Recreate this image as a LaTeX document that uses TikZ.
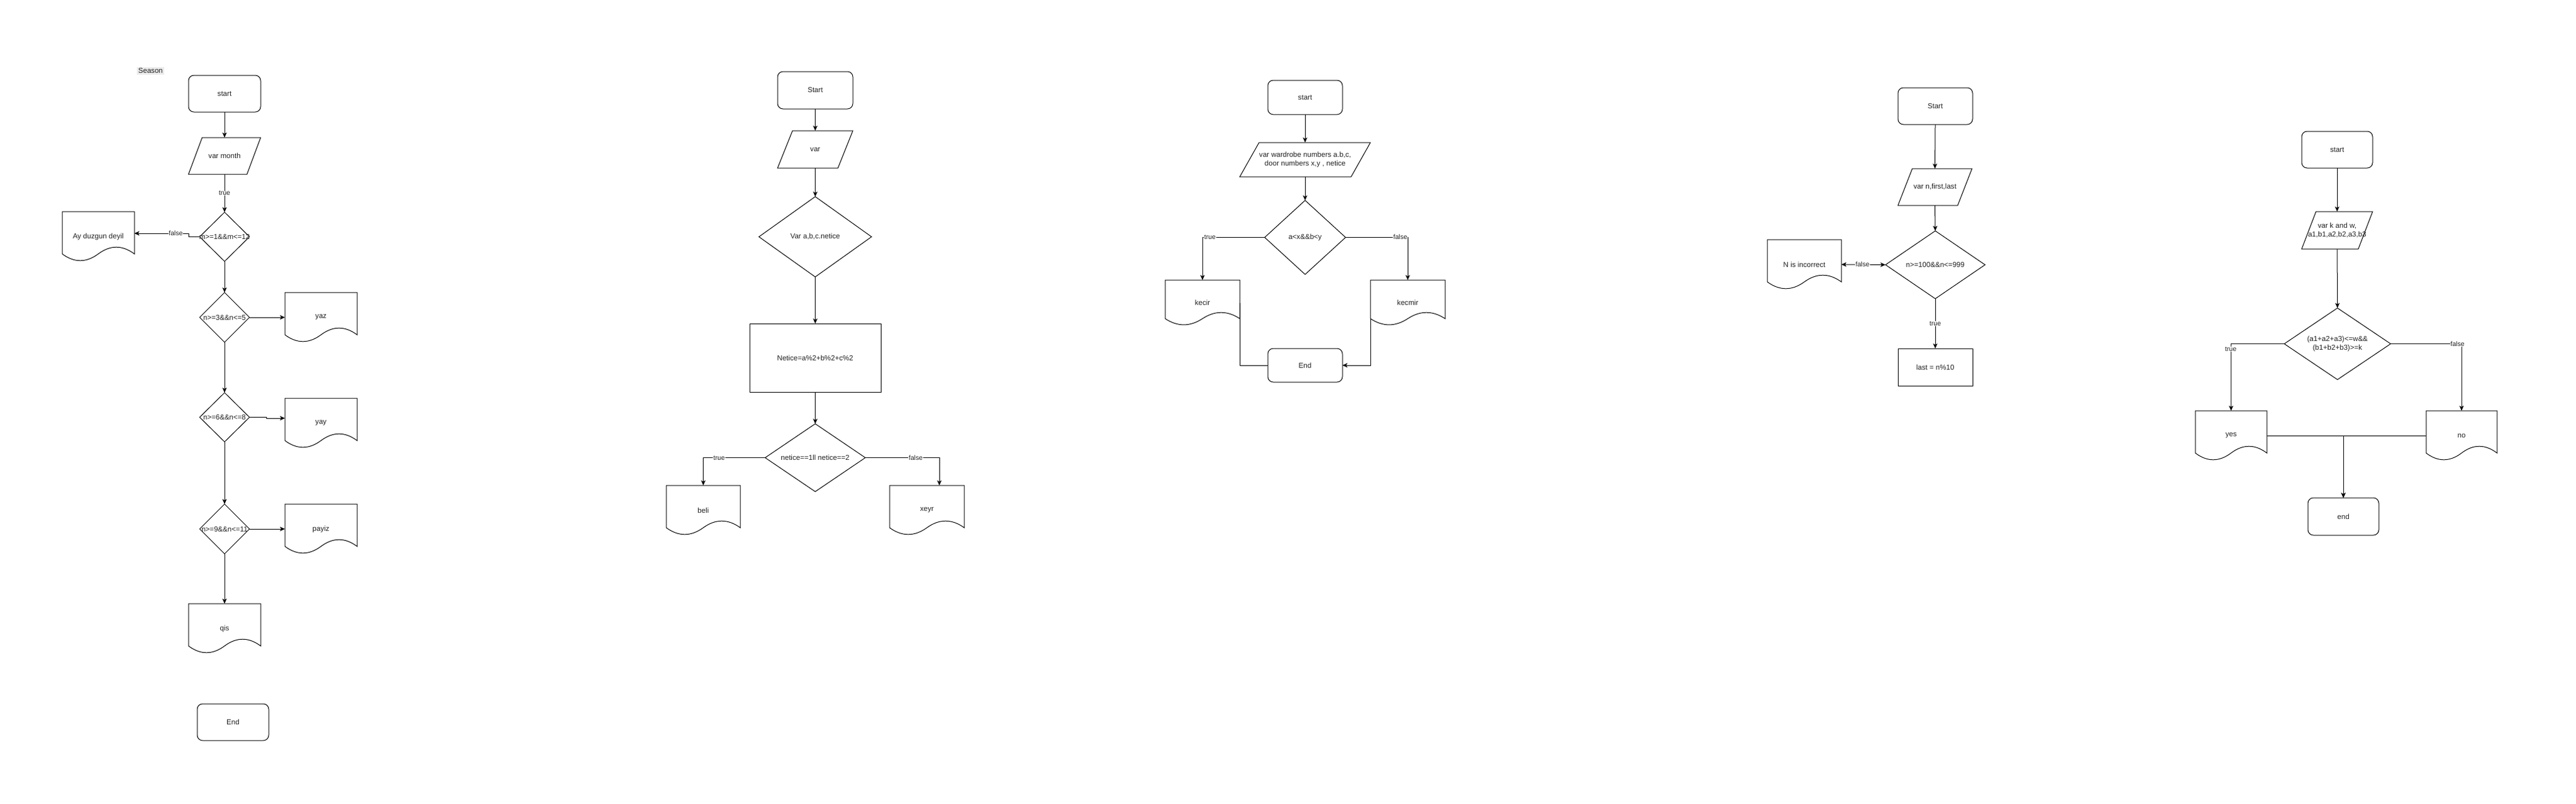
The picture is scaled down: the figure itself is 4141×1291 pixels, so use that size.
\documentclass[tikz,border=0pt]{standalone}
\usepackage{fontspec}
\setmainfont{Liberation Sans}
\usetikzlibrary{arrows.meta,shapes.geometric,calc}
\newcommand{\mynodefont}{\fontsize{11.6}{14}\selectfont}
\newcommand{\mylabelfont}{\fontsize{10.6}{12.5}\selectfont}
\newcommand{\zw}[1]{\makebox[0pt]{#1}}
\definecolor{seasonbg}{HTML}{EBEBEB}
\definecolor{txt}{HTML}{222222}
\tikzset{
  outl/.style={draw=black, line width=1pt, line join=miter},
  base/.style={font=\mynodefont, text=txt, inner sep=0pt, outer sep=0pt},
  term/.style={base, draw, line width=1pt, rounded corners=8.7pt},
  proc/.style={base, draw, line width=1pt},
  dia/.style={base, diamond, draw, line width=1pt},
  para/.style={base, align=center},
  docu/.style={base, align=center},
  arr/.style={draw, line width=1pt, -{Stealth[length=8pt,width=7pt,inset=2pt]}},
  lineonly/.style={draw, line width=1pt},
  arrboth/.style={draw, line width=1pt, {Stealth[length=8pt,width=7pt,inset=2pt]}-{Stealth[length=8pt,width=7pt,inset=2pt]}},
  lbl/.style={font=\mylabelfont, text=txt, fill=white, inner sep=0.5pt},
}
\newcommand{\docoutline}[1]{%
  \draw[outl] let \p1=(#1.north west), \p2=(#1.south east), \n1={\x2-\x1}, \n2={\y1-\y2} in
  (\p1) -- (\x2,\y1) -- (\x2,{\y1-0.85*\n2})
  .. controls ({\x1+0.8333*\n1},{\y1-0.67*\n2}) and ({\x1+0.6667*\n1},{\y1-0.67*\n2}) .. ({\x1+0.5*\n1},{\y1-0.85*\n2})
  .. controls ({\x1+0.3333*\n1},{\y1-1.03*\n2}) and ({\x1+0.1667*\n1},{\y1-1.03*\n2}) .. (\x1,{\y1-0.85*\n2}) -- cycle;}
\newcommand{\paraoutline}[2]{%
  \draw[outl] let \p1=(#1.north west), \p2=(#1.south east) in
  ({\x1+#2},\y1) -- (\x2,\y1) -- ({\x2-#2},\y2) -- (\x1,\y2) -- cycle;}
\begin{document}
\begin{tikzpicture}[x=1pt,y=-1pt]
\fill[white] (0,0) rectangle (4141,1291);
\useasboundingbox (0,0) rectangle (4141,1291);

% ---------- Flowchart 1: Season ----------
\node[base, fill=seasonbg, inner xsep=2pt, inner ysep=2pt] (season) at (242,114) {Season};
\node[term, minimum width=116pt, minimum height=59pt] (s1) at (361,150.5) {start};
\node[para, minimum width=116pt, minimum height=59pt] (i1) at (361,250.5) {var month};
\node[dia, minimum width=80pt, minimum height=79pt] (d1) at (361,380.5) {\zw{m>=1\&\&m<=12}};
\node[docu, minimum width=116pt, minimum height=80pt] (o1) at (158,380) {Ay duzgun deyil};
\node[dia, minimum width=80pt, minimum height=80pt] (d2) at (361,510) {\zw{n>=3\&\&n<=5}};
\node[docu, minimum width=116pt, minimum height=80pt] (o2) at (516,510) {yaz};
\node[dia, minimum width=80pt, minimum height=79pt] (d3) at (361,670.5) {\zw{n>=6\&\&n<=8}};
\node[docu, minimum width=116pt, minimum height=80pt] (o3) at (516,680) {yay};
\node[dia, minimum width=80pt, minimum height=80pt] (d4) at (361,850) {\zw{n>=9\&\&n<=11}};
\node[docu, minimum width=116pt, minimum height=80pt] (o4) at (516,850) {payiz};
\node[docu, minimum width=116pt, minimum height=80pt] (o5) at (361,1010) {qis};
\node[term, minimum width=115pt, minimum height=59pt] (e1) at (374.5,1160.5) {End};
\paraoutline{i1}{22}
\docoutline{o1}\docoutline{o2}\docoutline{o3}\docoutline{o4}\docoutline{o5}
\draw[arr] (s1.south) -- (i1.north);
\draw[arr] (i1.south) -- node[lbl] (t1) {true} (d1.north);
\draw[arr] (d1.west) -- ++(-18,0) |- ([yshift=5pt]o1.east);
\node[lbl] (f1) at (282.5,375) {false};
\draw[arr] (d1.south) -- (d2.north);
\draw[arr] (d2.east) -- (o2.west);
\draw[arr] (d2.south) -- (d3.north);
\draw[arr] (d3.east) -- ++(27,0) |- ([yshift=8pt]o3.west);
\draw[arr] (d3.south) -- (d4.north);
\draw[arr] (d4.east) -- (o4.west);
\draw[arr] (d4.south) -- (o5.north);

% ---------- Flowchart 2 ----------
\node[term, minimum width=121pt, minimum height=60pt] (s2) at (1310.5,145) {Start};
\node[para, minimum width=121pt, minimum height=60pt] (i2) at (1310.5,240) {var};
\node[dia, minimum width=181pt, minimum height=129pt] (d5) at (1310.5,380.5) {\zw{Var a,b,c.netice}};
\node[proc, minimum width=211pt, minimum height=110pt] (p2) at (1310.5,575) {Netice=a\%2+b\%2+c\%2};
\node[dia, minimum width=161pt, minimum height=109pt] (d6) at (1310.5,735.5) {\zw{netice==1ll netice==2}};
\node[docu, minimum width=119pt, minimum height=80pt] (o6) at (1130.5,820) {beli};
\node[docu, minimum width=120pt, minimum height=80pt] (o7) at (1490,820) {xeyr};
\paraoutline{i2}{24}
\docoutline{o6}\docoutline{o7}
\draw[arr] (s2.south) -- (i2.north);
\draw[arr] (i2.south) -- (d5.north);
\draw[arr] (d5.south) -- (p2.north);
\draw[arr] (p2.south) -- (d6.north);
\draw[arr] (d6.west) -| (o6.north);
\draw[arr] (d6.east) -| ([xshift=20pt]o7.north);
\node[lbl] (t2) at (1156,736) {true};
\node[lbl] (f2) at (1472,736) {false};

% ---------- Flowchart 3 ----------
\node[term, minimum width=120pt, minimum height=55pt] (s3) at (2098,156.5) {start};
\node[para, minimum width=210pt, minimum height=55pt] (i3) at (2098,256.5) {var wardrobe numbers a.b,c,\\door numbers x,y , netice};
\node[dia, minimum width=130pt, minimum height=119pt] (d7) at (2098,381.5) {\zw{a<x\&\&b<y}};
\node[docu, minimum width=120pt, minimum height=73pt] (o8) at (1933,486.5) {kecir};
\node[docu, minimum width=120pt, minimum height=73pt] (o9) at (2263,486.5) {kecmir};
\node[term, minimum width=120pt, minimum height=54pt] (e3) at (2098,587) {End};
\paraoutline{i3}{31}
\docoutline{o8}\docoutline{o9}
\draw[arr] (s3.south) -- (i3.north);
\draw[arr] (i3.south) -- (d7.north);
\draw[arr] (d7.west) -| (o8.north);
\draw[arr] (d7.east) -| (o9.north);
\draw[lineonly] (o8.east) |- (e3.west);
\draw[arr] ([yshift=-25.5pt]o9.west) |- (e3.east);
\node[lbl] (t3) at (1945,381) {true};
\node[lbl] (f3) at (2251,381) {false};

% ---------- Flowchart 4 ----------
\node[term, minimum width=120pt, minimum height=59pt] (s4) at (3111,170.5) {Start};
\node[para, minimum width=119pt, minimum height=59pt] (i4) at (3110.5,300.5) {var n,first,last};
\node[dia, minimum width=160pt, minimum height=109pt] (d8) at (3111,425.5) {\zw{n>=100\&\&n<=999}};
\node[docu, minimum width=119pt, minimum height=80pt] (o10) at (2900.5,425) {N is incorrect};
\node[proc, minimum width=120pt, minimum height=60pt] (p4) at (3111,590) {last = n\%10};
\paraoutline{i4}{23}
\docoutline{o10}
\draw[arr] (s4.south) -- (i4.north);
\draw[arr] (i4.south) -- (d8.north);
\draw[arrboth] (o10.east) -- (d8.west);
\node[lbl] (f4) at (2994,425) {false};
\draw[arr] (d8.south) -- node[lbl] (t4) {true} (p4.north);

% ---------- Flowchart 5 ----------
\node[term, minimum width=114pt, minimum height=59pt] (s5) at (3757,240.5) {start};
\node[para, minimum width=114pt, minimum height=60pt] (i5) at (3757,370) {var k and w,\\a1,b1,a2,b2,a3,b3};
\node[dia, minimum width=171pt, minimum height=115pt] (d9) at (3757.5,552.5) {\zw{\begin{tabular}{@{}c@{}}(a1+a2+a3)<=w\&\&\\(b1+b2+b3)>=k\end{tabular}}};
\node[docu, minimum width=115pt, minimum height=80pt] (o11) at (3586.5,700) {yes};
\node[docu, minimum width=114pt, minimum height=80pt] (o12) at (3957,700) {no};
\node[term, minimum width=114pt, minimum height=60pt] (e5) at (3767,830) {end};
\paraoutline{i5}{23}
\docoutline{o11}\docoutline{o12}
\draw[arr] (s5.south) -- (i5.north);
\draw[arr] (i5.south) -- (d9.north);
\draw[arr] (d9.west) -| (o11.north);
\draw[arr] (d9.east) -| (o12.north);
\draw[arr] (o11.east) -| (e5.north);
\draw[arr] (o12.west) -| (e5.north);
\node[lbl] (t5) at (3586,561) {true};
\node[lbl] (f5) at (3950.5,553) {false};
\end{tikzpicture}
\end{document}
